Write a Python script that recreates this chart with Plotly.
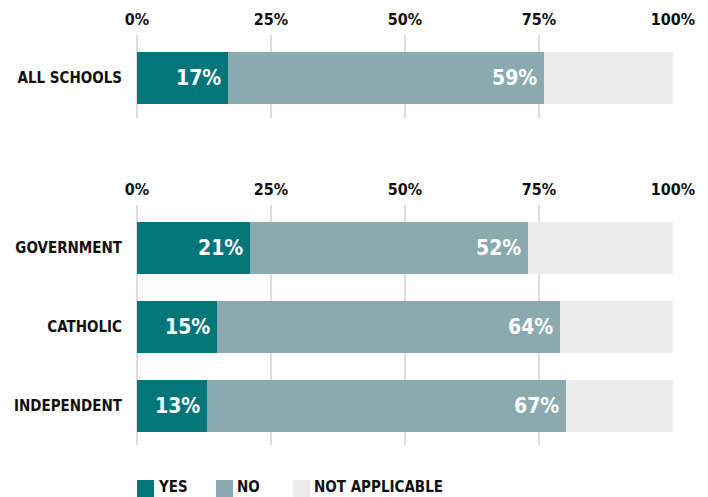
import plotly.graph_objects as go

groups_top = ["ALL SCHOOLS"]
groups_bottom = ["GOVERNMENT", "CATHOLIC", "INDEPENDENT"]
yes_top = [17]
no_top = [59]
na_top = [24]
yes_bottom = [21, 15, 13]
no_bottom = [52, 64, 67]
na_bottom = [27, 21, 20]
series_names = ["YES", "NO", "NOT APPLICABLE"]
colors = ["#04767a", "#8aaab0", "#ebebeb"]
tick_vals = [0, 25, 50, 75, 100]
tick_text = ["0%", "25%", "50%", "75%", "100%"]

FONT = "DejaVu Sans Condensed, Liberation Sans Narrow, Arial Narrow, sans-serif"
# the page body has an 8px margin, so the figure is drawn 8px in from the top-left
OFF = 8
W, H = 708 - OFF, 497 - OFF

fig = go.Figure()

def add(vals_list, cats, xa, ya):
    for name, vals, col in zip(series_names, vals_list, colors):
        txt = [f"{v}%\u2009" for v in vals] if name != "NOT APPLICABLE" else None
        fig.add_trace(go.Bar(
            y=cats, x=vals, orientation="h", name=name,
            marker=dict(color=col, line=dict(width=0)),
            text=txt, textposition="inside" if txt else "none",
            insidetextanchor="end",
            textfont=dict(color="white", size=21, family=FONT, weight="bold"),
            width=52/79, xaxis=xa, yaxis=ya, showlegend=False,
            hoverinfo="skip",
        ))

add([yes_top, no_top, na_top], groups_top, "x", "y")
add([yes_bottom, no_bottom, na_bottom], groups_bottom, "x2", "y2")

def px_x(sx):
    return (sx - OFF) / W

def px_y(sy):
    return 1 - (sy - OFF) / H

xdom = [px_x(137), px_x(673)]
xcommon = dict(range=[0, 100], tickvals=tick_vals, ticktext=tick_text, side="top",
               showgrid=True, gridcolor="#dedede", gridwidth=1.5,
               zeroline=True, zerolinecolor="#dedede", zerolinewidth=1.5,
               showline=False, ticks="", fixedrange=True, automargin=False,
               ticklabelstandoff=6,
               tickfont=dict(family=FONT, size=16, color="#111111", weight="bold"),
               domain=xdom)
ycommon = dict(showgrid=False, zeroline=False, showline=False, ticks="",
               ticklabelstandoff=14, automargin=False, fixedrange=True,
               tickfont=dict(family=FONT, size=15, color="#111111", weight="bold"))

# manual legend (squares + labels)
legend_x = [137, 216, 293]
shapes, annotations = [], []
for name, col, lx in zip(series_names, colors, legend_x):
    shapes.append(dict(type="rect", xref="paper", yref="paper",
                       x0=px_x(lx), x1=px_x(lx + 17), y0=px_y(497), y1=px_y(480),
                       fillcolor=col, line=dict(width=0)))
    annotations.append(dict(xref="paper", yref="paper", x=px_x(lx + 20), y=px_y(486.5),
                            xanchor="left", yanchor="middle", showarrow=False,
                            text=name, borderpad=0,
                            font=dict(family=FONT, size=15, color="#111111", weight="bold")))

fig.update_layout(
    width=W, height=H, margin=dict(l=0, r=0, t=0, b=0, autoexpand=False),
    paper_bgcolor="white", plot_bgcolor="white",
    barmode="stack", bargap=0, showlegend=False,
    font=dict(family=FONT, color="#111111"),
    xaxis=dict(anchor="y", **xcommon),
    xaxis2=dict(anchor="y2", **xcommon),
    yaxis=dict(anchor="x", domain=[px_y(118), px_y(35)],
               range=[-40 / 79, 43 / 79], **ycommon),
    yaxis2=dict(anchor="x2", domain=[px_y(445), px_y(205)],
                range=[2 + 39 / 79, -43 / 79], **ycommon),
    uniformtext=dict(mode="show", minsize=10),
    shapes=shapes, annotations=annotations,
)

fig.write_html("out.html")
